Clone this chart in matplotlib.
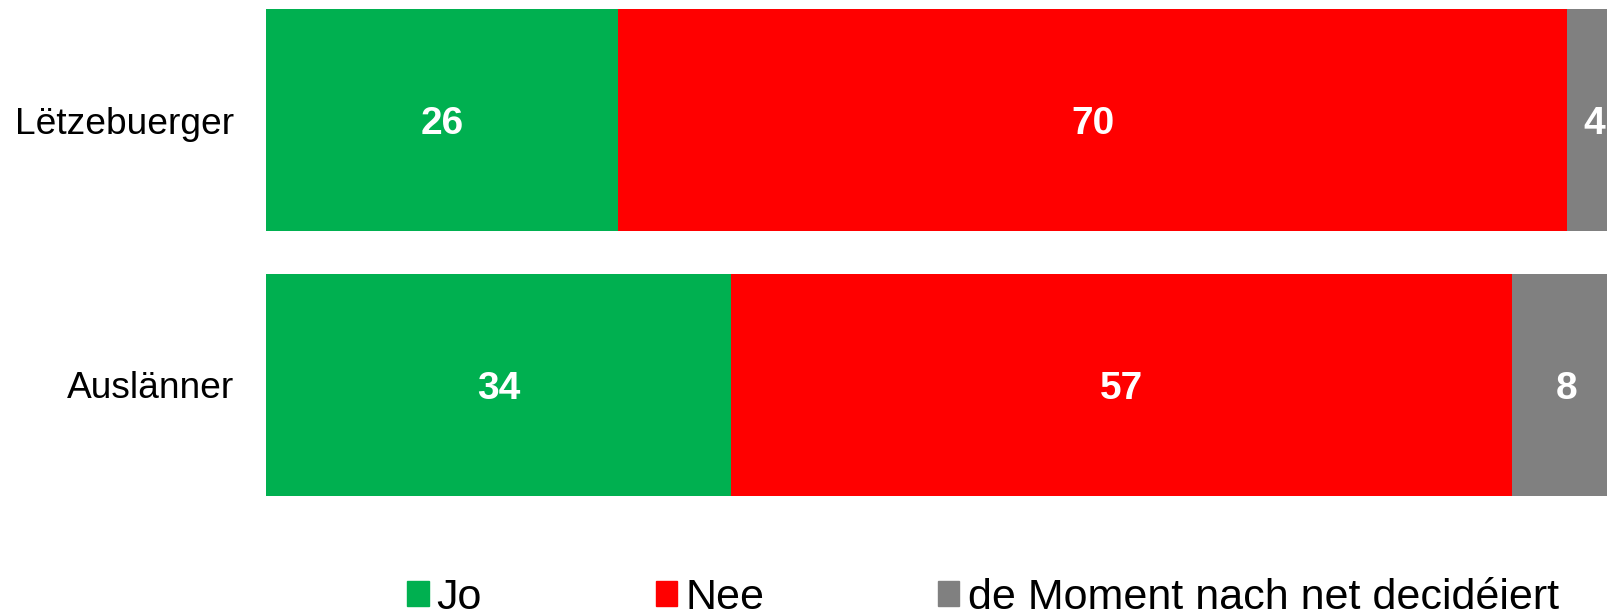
import numpy as np
import matplotlib.pyplot as plt
from matplotlib.patches import Patch

plt.rcParams['font.family'] = ['Liberation Sans', 'DejaVu Sans']

categories = ["Lëtzebuerger", "Auslänner"]
series = ["Jo", "Nee", "de Moment nach net decidéiert"]
jo = [26, 34]
nee = [70, 57]
undecided = [4, 8]
colors = ["#00B050", "#FF0000", "#808080"]

values = np.array([jo, nee, undecided], dtype=float)
shares = values / values.sum(axis=0) * 100  # bars stacked to 100 %

W, H = 1608, 610
fig = plt.figure(figsize=(W / 100, H / 100), dpi=100)
# axes runs a bit past the right edge, as in the original (last segment clipped)
ax = fig.add_axes([265.7 / W, (H - 496) / H, 1356 / W, 487 / H])

y = np.array([1, 0])
left = np.zeros(len(categories))
for i, name in enumerate(series):
    ax.barh(y, shares[i], left=left, height=0.838, color=colors[i], label=name)
    for j in range(len(categories)):
        ax.text(left[j] + shares[i][j] / 2, y[j], str(int(values[i][j])),
                ha="center", va="center_baseline", color="white",
                fontsize=28, fontweight="bold")
    left += shares[i]

ax.set_xlim(0, 100)
ax.set_ylim(-0.419, 1.419)
ax.set_yticks(y)
ax.set_yticklabels(categories, fontsize=26.7)
ax.tick_params(axis="y", length=0, pad=23)
ax.set_xticks([])
for s in ax.spines.values():
    s.set_visible(False)

handles = [Patch(color=c, label=n) for c, n in zip(colors, series)]
fig.legend(handles=handles, loc="center left", ncol=3,
           bbox_to_anchor=(407 / W, 1 - 598 / H), frameon=False,
           fontsize=31, handlelength=0.5, handleheight=0.5,
           handletextpad=0.19, columnspacing=4.03, borderpad=0, borderaxespad=0)

fig.savefig("out.png", dpi=100)
